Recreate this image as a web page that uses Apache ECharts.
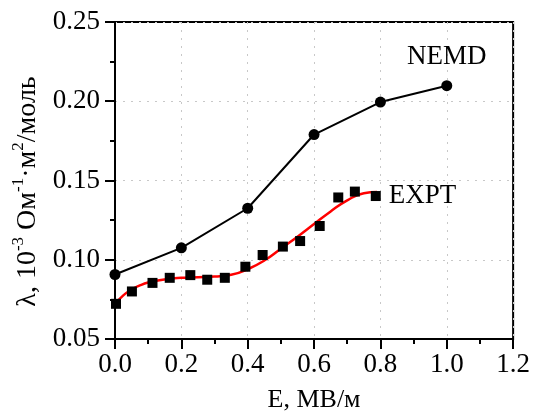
<!DOCTYPE html>
<html>
<head>
<meta charset="utf-8">
<script src="https://cdn.jsdelivr.net/npm/echarts@6/dist/echarts.min.js"></script>
<style>html,body{margin:0;padding:0;background:#fff}#c{width:533px;height:418px}</style>
</head>
<body>
<div id="c"></div>
<script>
// NEMD simulation
var nemdE = [0.0, 0.2, 0.4, 0.6, 0.8, 1.0];
var nemdL = [0.0907, 0.1075, 0.1325, 0.179, 0.1995, 0.2098];
// Experimental points
var exptE = [0.003, 0.051, 0.113, 0.165, 0.227, 0.278, 0.331, 0.393, 0.445, 0.506, 0.558, 0.617, 0.673, 0.723, 0.786];
var exptL = [0.0722, 0.080, 0.0854, 0.0886, 0.0903, 0.0874, 0.0886, 0.0956, 0.103, 0.1083, 0.1118, 0.1213, 0.1393, 0.143, 0.1402];
// Fit curve (red)
var fitE = [0.0, 0.025, 0.05, 0.075, 0.1, 0.15, 0.2, 0.25, 0.3, 0.35, 0.4, 0.45, 0.5, 0.55, 0.6, 0.65, 0.7, 0.75, 0.79];
var fitL = [0.072, 0.0775, 0.0812, 0.0838, 0.0856, 0.0876, 0.0886, 0.089, 0.0894, 0.0905, 0.094, 0.0995, 0.107, 0.1145, 0.1225, 0.1305, 0.1375, 0.142, 0.1428];
var xTicks = [0, 1.2, 0.2];
var yTicks = [0.05, 0.25, 0.05];

function zip(a, b) { return a.map(function (v, i) { return [v, b[i]]; }); }

var FONT = 'Liberation Serif';
var chart = echarts.init(document.getElementById('c'), null, {renderer: 'canvas'});
var nemdData = zip(nemdE, nemdL);
nemdData[nemdData.length - 1] = {value: nemdData[nemdData.length - 1], label: {show: true, formatter: 'NEMD', position: 'top', distance: 10, fontFamily: FONT, fontSize: 27, color: '#000', fontWeight: 'normal'}};
var exptData = zip(exptE, exptL);
exptData[exptData.length - 1] = {value: exptData[exptData.length - 1], label: {show: true, formatter: 'EXPT', position: 'right', distance: 8, fontFamily: FONT, fontSize: 27, color: '#000', fontWeight: 'normal'}};

chart.setOption({
  animation: false,
  backgroundColor: '#fff',
  textStyle: {fontFamily: FONT},
  grid: {left: 115, top: 22, right: 18, bottom: 71, show: true, borderColor: '#000', borderWidth: 2, backgroundColor: 'transparent'},
  xAxis: {
    type: 'value', min: xTicks[0], max: xTicks[1], interval: xTicks[2],
    name: 'E, МВ/м', nameLocation: 'middle', nameGap: 48,
    nameTextStyle: {fontFamily: FONT, fontSize: 26, color: '#000'},
    axisLine: {show: true, onZero: false, lineStyle: {color: '#000', width: 2}},
    axisTick: {show: true, inside: false, length: 10, lineStyle: {color: '#000', width: 2}},
    minorTick: {show: true, splitNumber: 2, length: 5, lineStyle: {color: '#000', width: 2}},
    axisLabel: {margin: 12, fontFamily: FONT, fontSize: 27, color: '#000', formatter: function (v) { return v.toFixed(1); }},
    splitLine: {show: true, lineStyle: {color: '#c8c8c8', type: [2, 6], width: 1}}
  },
  yAxis: {
    type: 'value', min: yTicks[0], max: yTicks[1], interval: yTicks[2],
    name: '{n|λ, 10}{s|-3}{n| Ом}{s|-1}{n|·м}{s|2}{n|/моль}', nameLocation: 'middle', nameRotate: 90, nameGap: 72,
    nameTextStyle: {
      fontFamily: FONT, fontSize: 28, color: '#000', padding: [0, 22, 0, 0],
      rich: {
        n: {fontFamily: FONT, fontSize: 28, color: '#000', lineHeight: 32, verticalAlign: 'bottom'},
        s: {fontFamily: FONT, fontSize: 17, color: '#000', lineHeight: 32, verticalAlign: 'top'}
      }
    },
    axisLine: {show: true, onZero: false, lineStyle: {color: '#000', width: 2}},
    axisTick: {show: true, inside: false, length: 10, lineStyle: {color: '#000', width: 2}},
    minorTick: {show: true, splitNumber: 2, length: 5, lineStyle: {color: '#000', width: 2}},
    axisLabel: {margin: 15, fontFamily: FONT, fontSize: 27, color: '#000', formatter: function (v) { return v.toFixed(2); }},
    splitLine: {show: true, lineStyle: {color: '#c8c8c8', type: [2, 6], width: 1}}
  },
  series: [
    {
      name: 'NEMD', type: 'line', data: nemdData,
      symbol: 'circle', symbolSize: 11,
      lineStyle: {color: '#000', width: 2}, itemStyle: {color: '#000', opacity: 1}
    },
    {
      name: 'fit', type: 'line', data: zip(fitE, fitL), smooth: true,
      symbol: 'none', lineStyle: {color: '#ff0000', width: 2.5}, z: 3
    },
    {
      name: 'EXPT', type: 'scatter', data: exptData,
      symbol: 'rect', symbolSize: 10, itemStyle: {color: '#000', opacity: 1}, z: 4
    }
  ]
});
</script>
</body>
</html>
